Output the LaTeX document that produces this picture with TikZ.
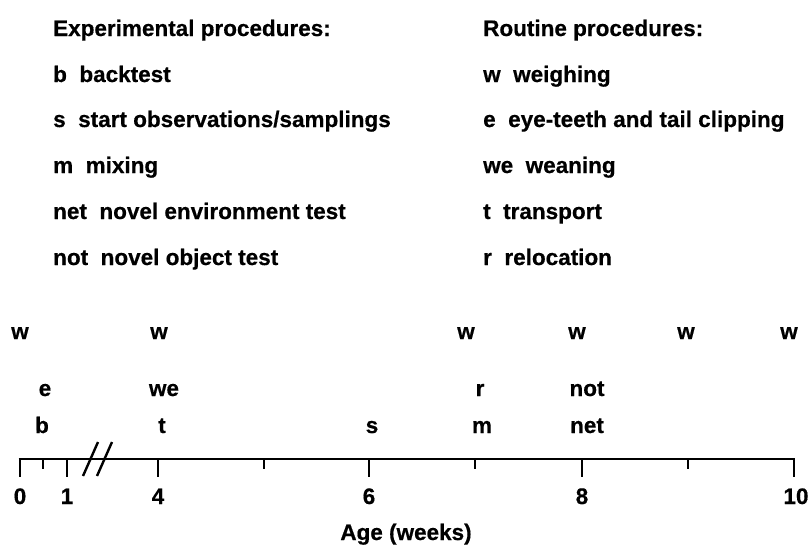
\documentclass[tikz,border=0pt]{standalone}
\usepackage{fontspec}
\setmainfont{Liberation Sans}[BoldFeatures={FakeBold=0.5}]
\begin{document}
\begin{tikzpicture}[x=1pt,y=-1pt,
  txt/.style={font=\fontsize{22.5}{27}\selectfont\bfseries, inner sep=0pt},
  lbl/.style={txt, anchor=base west},
  ev/.style={txt, anchor=base},
  axisline/.style={line width=2.6pt, line cap=butt},
  majortick/.style={line width=2.6pt},
  minortick/.style={line width=2.6pt},
  breakmark/.style={line width=2.4pt}]
\useasboundingbox (0,0) rectangle (809,547);

% legend, left column
\node[lbl] (h1) at (53,36)  {Experimental procedures:};
\node[lbl] (l1) at (53,82)  {b\ \ backtest};
\node[lbl] (l2) at (53,127) {s\ \ start observations/samplings};
\node[lbl] (l3) at (53,173) {m\ \ mixing};
\node[lbl] (l4) at (53,219) {net\ \ novel environment test};
\node[lbl] (l5) at (53,265) {not\ \ novel object test};
% legend, right column
\node[lbl] (h2) at (483,36)  {Routine procedures:};
\node[lbl] (r1) at (483,82)  {w\ \ weighing};
\node[lbl] (r2) at (483,127) {e\ \ eye-teeth and tail clipping};
\node[lbl] (r3) at (483,173) {we\ \ weaning};
\node[lbl] (r4) at (483,219) {t\ \ transport};
\node[lbl] (r5) at (483,265) {r\ \ relocation};

% event rows
\node[ev] (w0)  at (20,339)  {w};
\node[ev] (w4)  at (159,339) {w};
\node[ev] (w7)  at (466,339) {w};
\node[ev] (w8)  at (577,339) {w};
\node[ev] (w9)  at (686,339) {w};
\node[ev] (w10) at (789,339) {w};

\node[ev] (e0)  at (45,396)  {e};
\node[ev] (we4) at (164,396) {we};
\node[ev] (r7)  at (480,396) {r};
\node[ev] (not8) at (587,396) {not};

\node[ev] (b0)  at (42,433)  {b};
\node[ev] (t4)  at (162,433) {t};
\node[ev] (s6)  at (372,433) {s};
\node[ev] (m7)  at (482,433) {m};
\node[ev] (net8) at (587,433) {net};

% axis
\coordinate (a0)  at (20,459);
\coordinate (a05) at (43,459);
\coordinate (a1)  at (67,459);
\coordinate (a4)  at (158,459);
\coordinate (a5)  at (264,459);
\coordinate (a6)  at (369,459);
\coordinate (a7)  at (475,459);
\coordinate (a8)  at (582,459);
\coordinate (a9)  at (688,459);
\coordinate (a10) at (794,459);

\draw[axisline] ([xshift=-1.3pt]a0) -- ([xshift=1.3pt]a10);
\foreach \c in {a0,a1,a4,a6,a8,a10}
  \draw[majortick] (\c) -- ++(0,18);
\foreach \c in {a05,a5,a7,a9}
  \draw[minortick] (\c) -- ++(0,10);

% axis break
\coordinate (bk1a) at (83,476);
\coordinate (bk1b) at (98,442);
\coordinate (bk2a) at (97,476);
\coordinate (bk2b) at (112,442);
\draw[breakmark] (bk1a) -- (bk1b);
\draw[breakmark] (bk2a) -- (bk2b);

% tick labels
\node[ev] (n0)  at (20,504)  {0};
\node[ev] (n1)  at (67,504)  {1};
\node[ev] (n4)  at (158,504) {4};
\node[ev] (n6)  at (369,504) {6};
\node[ev] (n8)  at (582,504) {8};
\node[ev] (n10) at (796,504) {10};

\node[ev] (xlabel) at (406,540) {Age (weeks)};
\end{tikzpicture}
\end{document}
